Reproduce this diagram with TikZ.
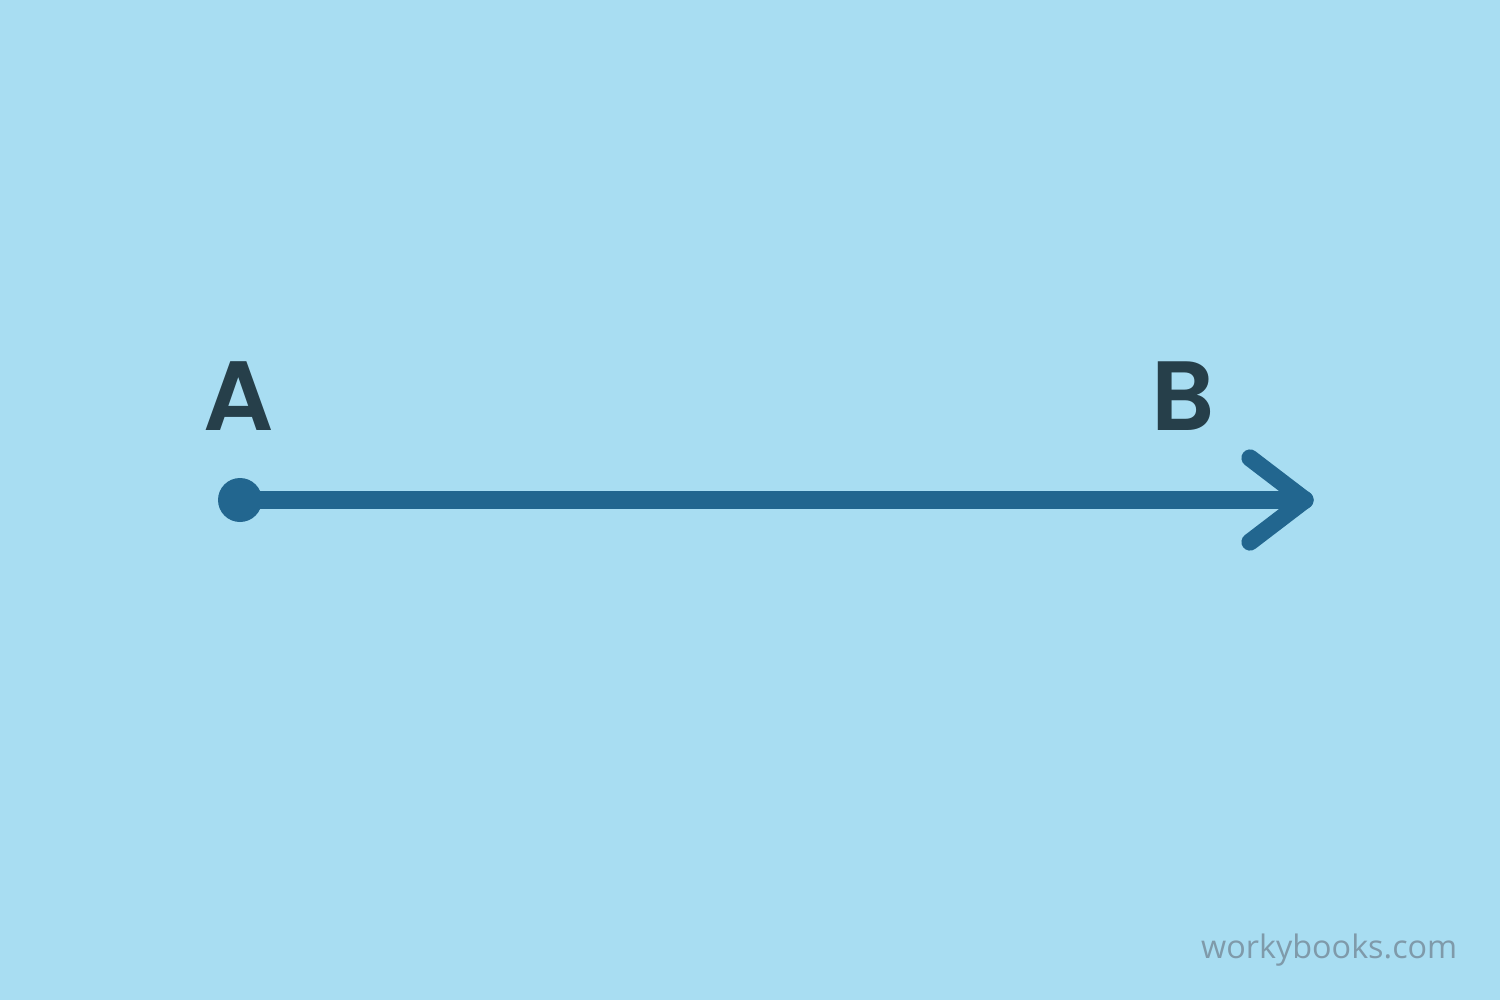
\documentclass[tikz,border=0pt]{standalone}
\usepackage{fontspec}
\setmainfont{Poppins}[BoldFont={Poppins SemiBold}]
\newfontfamily\wmfont{Open Sans}
\definecolor{bgblue}{HTML}{A8DDF2}
\definecolor{rayblue}{HTML}{22668F}
\definecolor{labelink}{HTML}{263F4A}
\definecolor{wmgray}{HTML}{7F9AAA}
\begin{document}
\begin{tikzpicture}[x=0.01cm,y=-0.01cm,
  raystroke/.style={draw=rayblue,line width=4.9pt,line cap=round,line join=round},
  ptlabel/.style={text=labelink,font=\fontsize{28}{28}\selectfont\bfseries,inner sep=0pt,anchor=center},
  watermark/.style={text=wmgray,font=\wmfont\fontsize{9.2}{9.2}\selectfont,inner sep=0pt,anchor=base east}]
  \fill[bgblue] (0,0) rectangle (1500,1000);
  \useasboundingbox (0,0) rectangle (1500,1000);
  \coordinate (start) at (240,500);
  \coordinate (tip) at (1305,500);
  \coordinate (armup) at (1250,458);
  \coordinate (armdown) at (1250,542);
  \draw[raystroke] (start) -- (tip);
  \draw[raystroke] (armup) -- (tip) -- (armdown);
  \fill[rayblue] (start) circle (22);
  \node[ptlabel] (A) at (239,396) {A};
  \node[ptlabel] (B) at (1183,396) {B};
  \node[watermark] (wm) at (1458,958) {workybooks.com};
\end{tikzpicture}
\end{document}
